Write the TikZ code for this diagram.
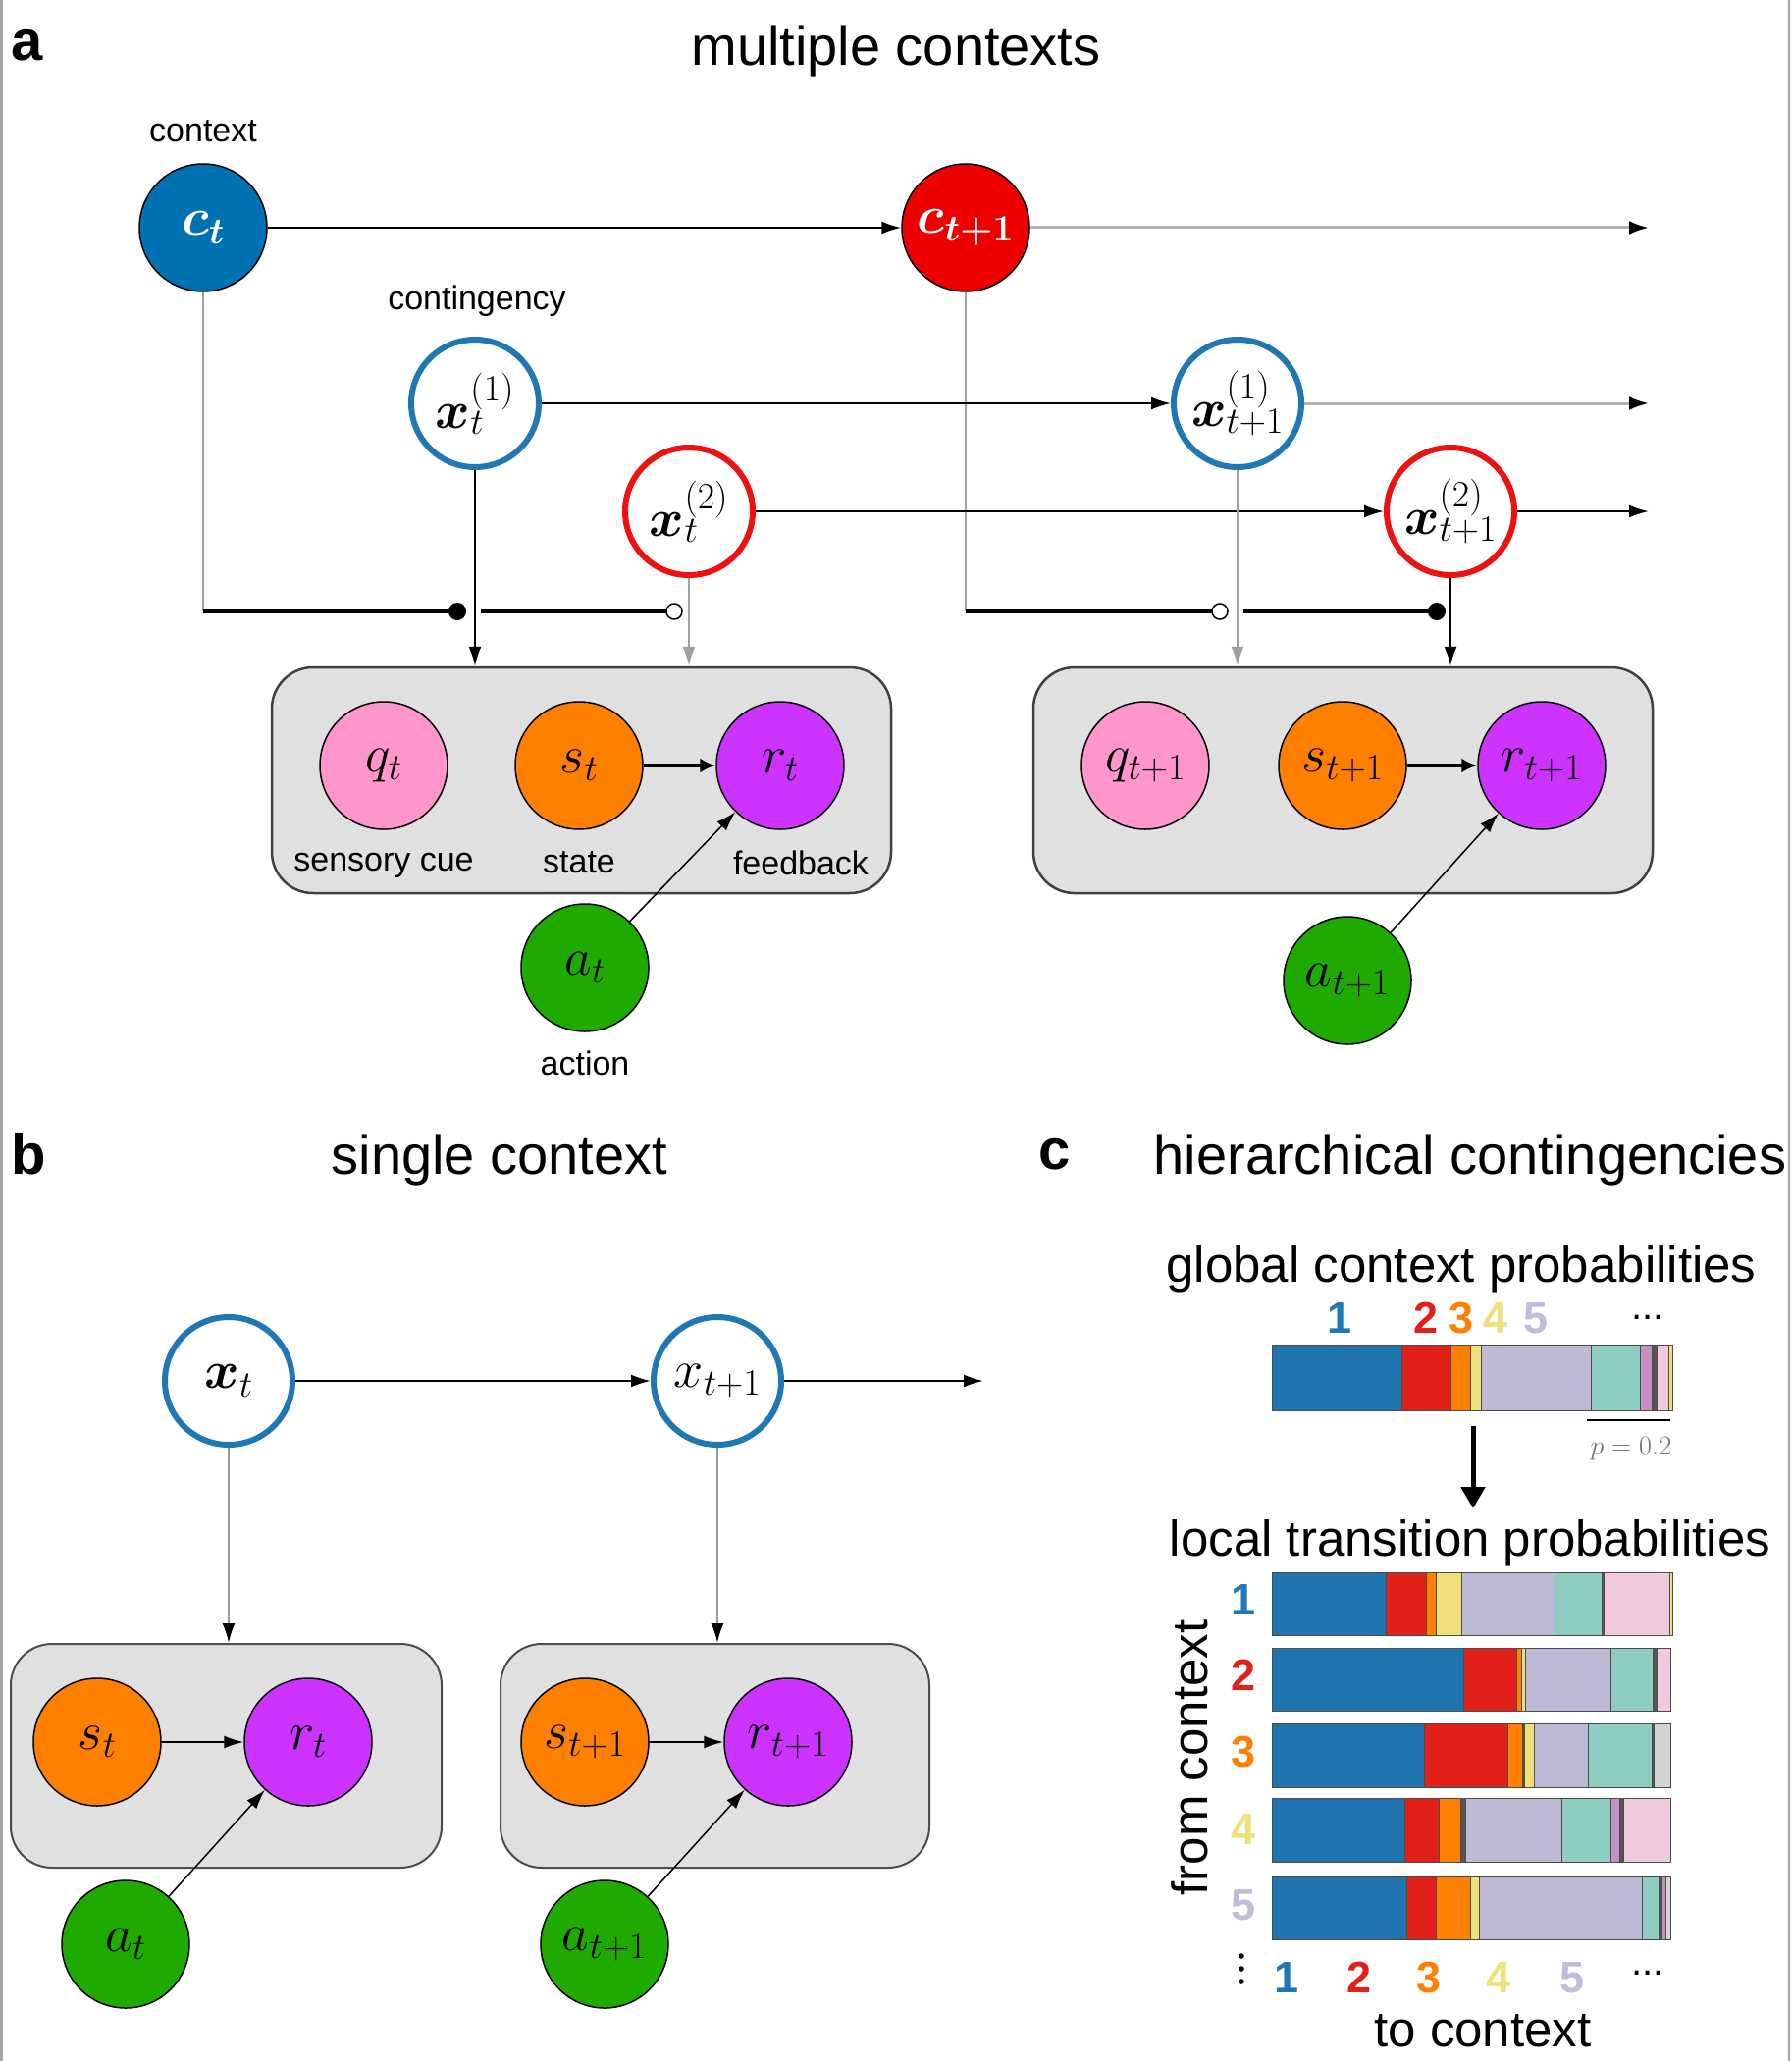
\RequirePackage{fix-cm}
\documentclass[tikz,border=0pt]{standalone}
\usepackage{fontspec}
\usepackage{bm}
\usetikzlibrary{arrows.meta}
\newfontfamily\lsans{Liberation Sans}
\definecolor{ctblue}{HTML}{0071B2}
\definecolor{ctred}{HTML}{EE0000}
\definecolor{xblue}{HTML}{1F77B4}
\definecolor{xred}{HTML}{EE1111}
\definecolor{cpink}{HTML}{FF96CB}
\definecolor{corange}{HTML}{FF8000}
\definecolor{cpurple}{HTML}{CC33FF}
\definecolor{cgreen}{HTML}{1FAA00}
\definecolor{plategray}{HTML}{E0E0E0}
\definecolor{bblue}{HTML}{1F74AF}
\definecolor{bred}{HTML}{E02019}
\definecolor{borange}{HTML}{FF7F00}
\definecolor{byellow}{HTML}{F0E07A}
\definecolor{blav}{HTML}{BEBAD6}
\definecolor{bteal}{HTML}{8ECEC2}
\definecolor{bpink}{HTML}{EFCADD}
\definecolor{bpurple}{HTML}{C590C8}
\definecolor{bdark}{HTML}{555555}
\definecolor{bgray}{HTML}{D3D3D3}
\definecolor{nyellow}{HTML}{F0E07A}
\definecolor{nlav}{HTML}{C0BCDC}
\begin{document}
\begin{tikzpicture}[x=1pt,y=-1pt,
  mathnode/.style={circle, minimum size=130pt, inner sep=0pt, font=\fontsize{54}{60}\selectfont},
  filled/.style={mathnode, draw=black, line width=1.5pt},
  xnode/.style={mathnode, fill=white, line width=6pt},
  lab/.style={font=\lsans\fontsize{34}{40}\selectfont, inner sep=0pt},
  ttl/.style={font=\lsans\fontsize{56}{66}\selectfont, inner sep=0pt},
  sub/.style={font=\lsans\fontsize{51}{60}\selectfont, inner sep=0pt},
  dig/.style={font=\lsans\bfseries\fontsize{45}{54}\selectfont, inner sep=0pt},
  pl/.style={font=\lsans\bfseries\fontsize{58}{68}\selectfont, inner sep=0pt},
  plate/.style={rectangle, draw=black!75, fill=plategray, line width=2.5pt, rounded corners=42pt, inner sep=0pt},
  arr/.style={-{Latex[length=20pt,width=13pt]}, line width=2pt},
  garr/.style={arr, draw=gray!75, -{Latex[length=20pt,width=13pt,gray!75]}},
  farr/.style={line width=3pt, draw=gray!60, -{Latex[length=20pt,width=14pt,black]}},
  thickarr/.style={-{Latex[length=16pt,width=15pt]}, line width=4pt},
  gline/.style={draw=gray!75, line width=2pt},
  sline/.style={draw=black, line width=3.5pt},
  bdot/.style={circle, fill=black, minimum size=18pt, inner sep=0pt},
  wdot/.style={circle, fill=white, draw=black, line width=1.5pt, minimum size=16pt, inner sep=0pt},
  seg/.style={draw=black!70, line width=1pt}
]
\useasboundingbox (0,0) rectangle (1825,2100);
\fill[white] (0,0) rectangle (1825,2100);
\draw[gray!70, line width=2.5pt] (1.5,0) -- (1.5,2100);
\draw[gray!70, line width=2.5pt] (1823,0) -- (1823,2100);

% ---------------- panel a ----------------
\node[pl] (la) at (28,46) {a};
\node[ttl] (ta) at (913,52) {multiple contexts};

\node[lab] (lctx) at (207,134) {context};
\node[lab] (lcont) at (486,307) {contingency};

\node[plate, minimum width=631pt, minimum height=230pt] (pa1) at (592.5,795) {};
\node[plate, minimum width=631pt, minimum height=230pt] (pa2) at (1368.5,795) {};

\node[filled, fill=ctblue, text=white] (ct) at (207,232) {$\bm{c_t}$};
\node[filled, fill=ctred, text=white] (ct1) at (984,232) {$\bm{c_{t+1}}$};
\node[xnode, draw=xblue] (x1t) at (484,411) {$\bm{x}_t^{(1)}$};
\node[xnode, draw=xred] (x2t) at (702,521) {$\bm{x}_t^{(2)}$};
\node[xnode, draw=xblue] (x1t1) at (1261,411) {$\bm{x}_{t+1}^{(1)}$};
\node[xnode, draw=xred] (x2t1) at (1478,521) {$\bm{x}_{t+1}^{(2)}$};

\coordinate (e1) at (1680,232);
\coordinate (e2) at (1680,411);
\coordinate (e3) at (1680,521);

% context switch lines
\coordinate (d1) at (466,623);
\coordinate (d2) at (687,623);
\coordinate (d3) at (1243,623);
\coordinate (d4) at (1464,623);
\draw[gline] (ct) -- (ct |- d1);
\draw[gline] (ct1) -- (ct1 |- d3);

\draw[arr] (ct) -- (ct1);
\draw[farr] (ct1) -- (e1);
\draw[arr] (x1t) -- (x1t1);
\draw[farr] (x1t1) -- (e2);
\draw[arr] (x2t) -- (x2t1);
\draw[arr] (x2t1) -- (e3);

\draw[sline] (ct |- d1) -- (d1);
\draw[sline] (x1t |- d1) ++(6,0) -- (d2);
\draw[sline] (ct1 |- d3) -- (d3);
\draw[sline] (x1t1 |- d3) ++(6,0) -- (d4);

\draw[arr] (x1t) -- (x1t |- pa1.north);
\draw[garr] (x2t) -- (x2t |- pa1.north);
\draw[garr] (x1t1) -- (x1t1 |- pa2.north);
\draw[arr] (x2t1) -- (x2t1 |- pa2.north);

\node[bdot] (bd1) at (d1) {};
\node[wdot] (wd1) at (d2) {};
\node[wdot] (wd2) at (d3) {};
\node[bdot] (bd2) at (d4) {};

\node[filled, fill=cpink] (qt) at (391,780) {$q_t$};
\node[filled, fill=corange] (st) at (590,780) {$s_t$};
\node[filled, fill=cpurple] (rt) at (795,780) {$r_t$};
\node[lab] (lsc) at (391,882) {sensory cue};
\node[lab] (lst) at (590,879) {state};
\node[lab] (lfb) at (816,879) {feedback};
\node[filled, fill=cgreen] (at) at (596,986) {$a_t$};
\node[lab] (lact) at (596,1083) {action};

\node[filled, fill=cpink] (qt1) at (1167,780) {$q_{t+1}$};
\node[filled, fill=corange] (st1) at (1368,780) {$s_{t+1}$};
\node[filled, fill=cpurple] (rt1) at (1571,780) {$r_{t+1}$};
\node[filled, fill=cgreen] (at1) at (1373,999) {$a_{t+1}$};

\draw[thickarr] (st) -- (rt);
\draw[thickarr] (st1) -- (rt1);
\draw[arr, line width=1.5pt] (at) -- (rt);
\draw[arr, line width=1.5pt] (at1) -- (rt1);

% ---------------- panel b ----------------
\node[pl] (lb) at (29,1176) {b};
\node[ttl] (tb) at (509,1182) {single context};

\node[plate, minimum width=439pt, minimum height=228pt, line width=2pt, draw=black!70] (pb1) at (230.5,1789) {};
\node[plate, minimum width=437pt, minimum height=228pt, line width=2pt, draw=black!70] (pb2) at (728.5,1789) {};

\node[xnode, draw=xblue] (xb) at (233,1407) {$\bm{x}_t$};
\node[xnode, draw=xblue] (xb1) at (731,1407) {$x_{t+1}$};
\coordinate (eb) at (1002,1407);
\draw[arr] (xb) -- (xb1);
\draw[arr] (xb1) -- (eb);
\draw[arr, draw=gray!80, -{Latex[length=20pt,width=13pt,black]}] (xb) -- (xb |- pb1.north);
\draw[arr, draw=gray!80, -{Latex[length=20pt,width=13pt,black]}] (xb1) -- (xb1 |- pb2.north);

\node[filled, fill=corange] (sb) at (99,1775) {$s_t$};
\node[filled, fill=cpurple] (rb) at (314,1775) {$r_t$};
\node[filled, fill=corange] (sb1) at (596,1775) {$s_{t+1}$};
\node[filled, fill=cpurple] (rb1) at (803,1775) {$r_{t+1}$};
\node[filled, fill=cgreen] (ab) at (128,1981) {$a_t$};
\node[filled, fill=cgreen] (ab1) at (616,1981) {$a_{t+1}$};
\draw[arr] (sb) -- (rb);
\draw[arr] (sb1) -- (rb1);
\draw[arr, line width=1.5pt] (ab) -- (rb);
\draw[arr, line width=1.5pt] (ab1) -- (rb1);

% ---------------- panel c ----------------
\node[pl] (lc) at (1075,1176) {c};
\node[ttl] (tc) at (1498,1182) {hierarchical contingencies};

\node[sub] (gtitle) at (1489,1293) {global context probabilities};
\node[dig, text=xblue] (g1) at (1365,1343) {1};
\node[dig, text=bred] (g2) at (1453,1343) {2};
\node[dig, text=borange] (g3) at (1489,1343) {3};
\node[dig, text=nyellow] (g4) at (1524,1343) {4};
\node[dig, text=nlav] (g5) at (1565,1343) {5};
\node[dig, font=\lsans\fontsize{40}{48}\selectfont] (gd) at (1679,1342) {...};

\foreach \a/\b/\c in {1296/1428/bblue,1428/1478/bred,1478/1498/borange,1498/1509/byellow,1509/1621/blav,1621/1671/bteal,1671/1683/bpurple,1683/1688/bdark,1688/1700/bpink,1700/1704/byellow}
  \filldraw[seg, fill=\c] (\a,1370) rectangle (\b,1437);
\draw[black, line width=2.5pt] (1617,1447) -- (1702,1447);
\node[text=gray!90!black, font=\fontsize{28}{32}\selectfont, inner sep=0pt] (pscale) at (1662,1476) {$p=0.2$};

\coordinate (ga) at (1501,1453);
\coordinate (gb) at (1501,1537);
\draw[line width=5pt, -{Triangle[length=22pt,width=24pt]}] (ga) -- (gb);

\node[sub] (ltitle) at (1498,1572) {local transition probabilities};

\foreach \a/\b/\c in {1296/1412/bblue,1412/1453/bred,1453/1463/borange,1463/1489/byellow,1489/1584/blav,1584/1632/bteal,1632/1634/bdark,1634/1701/bpink,1701/1704/byellow}
  \filldraw[seg, fill=\c] (\a,1602) rectangle (\b,1666);
\foreach \a/\b/\c in {1296/1491/bblue,1491/1545/bred,1545/1550/borange,1550/1554/byellow,1554/1641/blav,1641/1684/bteal,1684/1688/bdark,1688/1702/bpink}
  \filldraw[seg, fill=\c] (\a,1679) rectangle (\b,1743);
\foreach \a/\b/\c in {1296/1451/bblue,1451/1536/bred,1536/1551/borange,1551/1553/bdark,1553/1563/byellow,1563/1618/blav,1618/1683/bteal,1683/1685/bdark,1685/1702/bgray}
  \filldraw[seg, fill=\c] (\a,1756) rectangle (\b,1821);
\foreach \a/\b/\c in {1296/1431/bblue,1431/1466/bred,1466/1488/borange,1488/1493/bdark,1493/1591/blav,1591/1641/bteal,1641/1650/bpurple,1650/1654/bdark,1654/1702/bpink}
  \filldraw[seg, fill=\c] (\a,1832) rectangle (\b,1897);
\foreach \a/\b/\c in {1296/1433/bblue,1433/1463/bred,1463/1498/borange,1498/1507/byellow,1507/1673/blav,1673/1690/bteal,1690/1693/bdark,1693/1697/bpurple,1697/1702/bgray}
  \filldraw[seg, fill=\c] (\a,1912) rectangle (\b,1976);

\node[dig, text=xblue] (r1) at (1267,1630) {1};
\node[dig, text=bred] (r2) at (1267,1707) {2};
\node[dig, text=borange] (r3) at (1267,1785) {3};
\node[dig, text=nyellow] (r4) at (1267,1864) {4};
\node[dig, text=nlav] (r5) at (1267,1941) {5};
\node[sub, rotate=90] (fromctx) at (1212,1791) {from context};
\foreach \yy in {1993,2006,2019}
  \fill[black] (1265,\yy) circle (2.8pt);

\node[dig, text=xblue] (c1) at (1311,2015) {1};
\node[dig, text=bred] (c2) at (1385,2015) {2};
\node[dig, text=borange] (c3) at (1456,2015) {3};
\node[dig, text=nyellow] (c4) at (1527,2015) {4};
\node[dig, text=nlav] (c5) at (1602,2015) {5};
\node[dig, font=\lsans\fontsize{40}{48}\selectfont] (cd) at (1679,2010) {...};
\node[sub] (toctx) at (1511,2069) {to context};
\end{tikzpicture}
\end{document}
